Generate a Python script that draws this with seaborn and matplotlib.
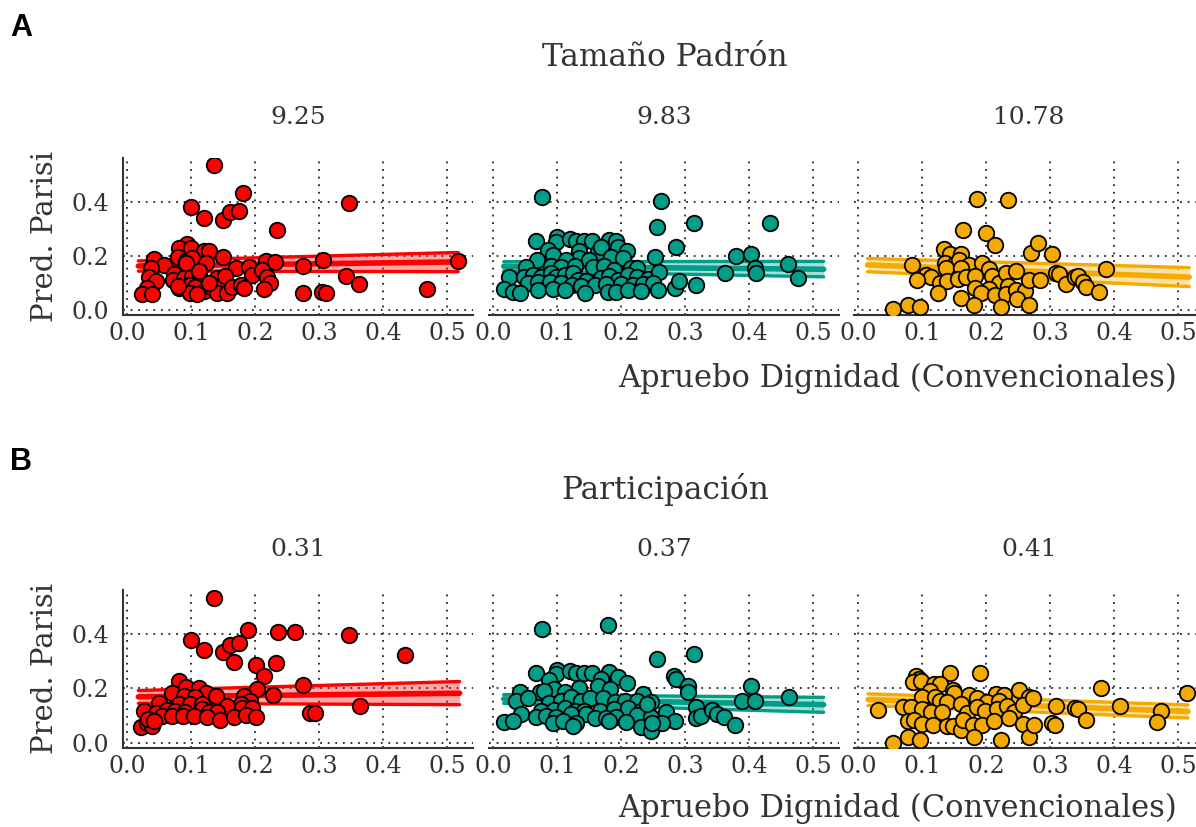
import matplotlib
matplotlib.use("Agg")
import matplotlib.pyplot as plt
import seaborn as sns
import pandas as pd
import numpy as np

# ---------------- data ----------------
row_titles = ["Tamaño Padrón", "Participación"]
facet_labels_a = ["9.25", "9.83", "10.78"]
facet_labels_b = ["0.31", "0.37", "0.41"]
panel_letters = ["A", "B"]
x_label = "Apruebo Dignidad (Convencionales)"
y_label = "Pred. Parisi"
x_ticks = [0.0, 0.1, 0.2, 0.3, 0.4, 0.5]
x_tick_labels = ["0.0", "0.1", "0.2", "0.3", "0.4", "0.5"]
y_ticks = [0.0, 0.2, 0.4]
y_tick_labels = ["0.0", "0.2", "0.4"]
colors = ["#FF0000", "#009E88", "#F4AA00"]

a1_x = [0.135, 0.180, 0.0995, 0.120, 0.150, 0.161, 0.175, 0.233, 0.093, 0.080, 0.0995, 0.120, 0.128, 0.150,
        0.041, 0.057, 0.036, 0.079, 0.092, 0.101, 0.122, 0.169, 0.190, 0.195, 0.217, 0.230, 0.211, 0.218,
        0.222, 0.214, 0.033, 0.045, 0.031, 0.022, 0.039, 0.072, 0.071, 0.080, 0.088, 0.101, 0.114, 0.111,
        0.098, 0.106, 0.119, 0.130, 0.140, 0.143, 0.140, 0.153, 0.155, 0.164, 0.177, 0.182, 0.127, 0.098,
        0.109, 0.091, 0.079, 0.274, 0.275, 0.305, 0.304, 0.310, 0.346, 0.342, 0.362, 0.468, 0.517]
a1_y = [0.535, 0.433, 0.379, 0.341, 0.332, 0.360, 0.367, 0.296, 0.244, 0.228, 0.228, 0.219, 0.219, 0.195,
        0.187, 0.166, 0.154, 0.195, 0.179, 0.191, 0.172, 0.154, 0.160, 0.129, 0.181, 0.175, 0.148, 0.123,
        0.101, 0.076, 0.123, 0.105, 0.080, 0.058, 0.059, 0.133, 0.111, 0.080, 0.117, 0.126, 0.117, 0.142,
        0.092, 0.086, 0.068, 0.086, 0.117, 0.086, 0.064, 0.126, 0.064, 0.086, 0.092, 0.080, 0.098, 0.062,
        0.059, 0.172, 0.087, 0.162, 0.064, 0.184, 0.066, 0.064, 0.395, 0.125, 0.094, 0.076, 0.181]

a2_x = [0.076, 0.067, 0.099, 0.097, 0.119, 0.129, 0.141, 0.154, 0.180, 0.192, 0.194, 0.163, 0.209, 0.168,
        0.085, 0.093, 0.133, 0.134, 0.150, 0.184, 0.202, 0.068, 0.114, 0.051, 0.090, 0.106, 0.127, 0.155,
        0.173, 0.189, 0.215, 0.225, 0.252, 0.025, 0.048, 0.061, 0.075, 0.090, 0.098, 0.111, 0.124, 0.132,
        0.145, 0.168, 0.181, 0.194, 0.210, 0.225, 0.241, 0.259, 0.054, 0.069, 0.088, 0.106, 0.122, 0.137,
        0.158, 0.176, 0.199, 0.218, 0.233, 0.249, 0.016, 0.030, 0.041, 0.069, 0.093, 0.111, 0.143, 0.179,
        0.192, 0.211, 0.231, 0.257, 0.262, 0.256, 0.314, 0.286, 0.283, 0.290, 0.317, 0.432, 0.379, 0.403,
        0.408, 0.410, 0.3625, 0.461, 0.476]
a2_y = [0.417, 0.255, 0.270, 0.251, 0.260, 0.255, 0.255, 0.255, 0.257, 0.255, 0.233, 0.214, 0.218, 0.233,
        0.221, 0.202, 0.218, 0.190, 0.184, 0.194, 0.190, 0.184, 0.184, 0.157, 0.162, 0.157, 0.162, 0.159,
        0.162, 0.147, 0.153, 0.153, 0.194, 0.120, 0.123, 0.129, 0.120, 0.135, 0.123, 0.129, 0.135, 0.110,
        0.108, 0.116, 0.125, 0.110, 0.129, 0.123, 0.113, 0.141, 0.098, 0.104, 0.104, 0.098, 0.092, 0.088,
        0.092, 0.096, 0.096, 0.092, 0.096, 0.098, 0.076, 0.067, 0.064, 0.074, 0.076, 0.074, 0.064, 0.067,
        0.067, 0.074, 0.071, 0.074, 0.402, 0.306, 0.322, 0.233, 0.082, 0.108, 0.092, 0.322, 0.200, 0.208,
        0.156, 0.135, 0.135, 0.168, 0.116]

a3_x = [0.186, 0.234, 0.164, 0.199, 0.213, 0.269, 0.134, 0.143, 0.161, 0.136, 0.150, 0.157, 0.173, 0.193,
        0.084, 0.137, 0.160, 0.204, 0.105, 0.114, 0.092, 0.127, 0.139, 0.155, 0.168, 0.182, 0.209, 0.220,
        0.231, 0.246, 0.233, 0.204, 0.182, 0.191, 0.213, 0.230, 0.246, 0.261, 0.247, 0.124, 0.161, 0.181,
        0.222, 0.267, 0.054, 0.078, 0.096, 0.281, 0.303, 0.267, 0.283, 0.308, 0.314, 0.324, 0.339, 0.343,
        0.351, 0.356, 0.376, 0.3875]
a3_y = [0.411, 0.407, 0.294, 0.284, 0.241, 0.211, 0.223, 0.206, 0.206, 0.174, 0.165, 0.184, 0.165, 0.174,
        0.165, 0.153, 0.153, 0.150, 0.129, 0.123, 0.110, 0.098, 0.108, 0.113, 0.123, 0.125, 0.125, 0.098,
        0.135, 0.145, 0.088, 0.076, 0.080, 0.061, 0.055, 0.058, 0.074, 0.071, 0.040, 0.061, 0.043, 0.018,
        0.012, 0.018, 0.002, 0.018, 0.009, 0.248, 0.208, 0.110, 0.110, 0.137, 0.131, 0.096, 0.120, 0.125,
        0.104, 0.083, 0.067, 0.151]

b1_x = [0.135, 0.188, 0.235, 0.2625, 0.0995, 0.120, 0.150, 0.161, 0.175, 0.166, 0.201, 0.232, 0.214, 0.203,
        0.227, 0.081, 0.092, 0.111, 0.122, 0.070, 0.088, 0.105, 0.138, 0.182, 0.192, 0.050, 0.080, 0.098,
        0.117, 0.177, 0.156, 0.026, 0.044, 0.062, 0.075, 0.090, 0.117, 0.127, 0.140, 0.179, 0.195, 0.054,
        0.070, 0.087, 0.104, 0.125, 0.144, 0.166, 0.186, 0.201, 0.021, 0.031, 0.039, 0.032, 0.041, 0.274,
        0.286, 0.293, 0.346, 0.433, 0.363]
b1_y = [0.533, 0.413, 0.407, 0.405, 0.379, 0.342, 0.333, 0.358, 0.368, 0.296, 0.284, 0.293, 0.244, 0.196,
        0.176, 0.226, 0.204, 0.200, 0.183, 0.183, 0.173, 0.170, 0.171, 0.173, 0.155, 0.146, 0.143, 0.143,
        0.143, 0.143, 0.137, 0.118, 0.109, 0.122, 0.118, 0.112, 0.124, 0.114, 0.112, 0.127, 0.127, 0.097,
        0.100, 0.100, 0.097, 0.093, 0.085, 0.093, 0.102, 0.093, 0.057, 0.073, 0.060, 0.087, 0.081, 0.214,
        0.108, 0.108, 0.397, 0.321, 0.137]

b2_x = [0.076, 0.179, 0.255, 0.067, 0.099, 0.097, 0.119, 0.129, 0.141, 0.154, 0.181, 0.194, 0.208, 0.168,
        0.087, 0.095, 0.134, 0.163, 0.182, 0.041, 0.072, 0.079, 0.111, 0.233, 0.035, 0.054, 0.087, 0.105,
        0.121, 0.137, 0.151, 0.171, 0.190, 0.205, 0.225, 0.246, 0.043, 0.074, 0.095, 0.111, 0.127, 0.142,
        0.166, 0.189, 0.210, 0.231, 0.067, 0.082, 0.098, 0.121, 0.145, 0.158, 0.176, 0.191, 0.225, 0.246,
        0.017, 0.030, 0.093, 0.108, 0.129, 0.124, 0.181, 0.207, 0.231, 0.246, 0.314, 0.282, 0.285, 0.304,
        0.304, 0.317, 0.317, 0.325, 0.341, 0.350, 0.361, 0.378, 0.403, 0.389, 0.408, 0.4625, 0.240, 0.269,
        0.283, 0.263, 0.248]
b2_y = [0.417, 0.432, 0.309, 0.257, 0.269, 0.251, 0.262, 0.257, 0.257, 0.257, 0.260, 0.241, 0.219, 0.235,
        0.231, 0.198, 0.202, 0.210, 0.196, 0.186, 0.188, 0.192, 0.186, 0.180, 0.153, 0.165, 0.145, 0.155,
        0.167, 0.155, 0.165, 0.165, 0.149, 0.155, 0.155, 0.149, 0.106, 0.118, 0.121, 0.128, 0.118, 0.118,
        0.118, 0.124, 0.128, 0.118, 0.093, 0.100, 0.096, 0.106, 0.106, 0.091, 0.091, 0.096, 0.103, 0.096,
        0.077, 0.081, 0.071, 0.081, 0.073, 0.060, 0.079, 0.075, 0.059, 0.044, 0.325, 0.247, 0.235, 0.210,
        0.186, 0.133, 0.091, 0.100, 0.121, 0.106, 0.095, 0.066, 0.207, 0.152, 0.155, 0.170, 0.142, 0.112,
        0.081, 0.072, 0.074]

b3_x = [0.143, 0.190, 0.090, 0.094, 0.085, 0.097, 0.118, 0.127, 0.112, 0.148, 0.149, 0.172, 0.215, 0.228,
        0.251, 0.266, 0.100, 0.120, 0.127, 0.139, 0.160, 0.186, 0.201, 0.220, 0.030, 0.069, 0.082, 0.099,
        0.114, 0.130, 0.170, 0.185, 0.198, 0.216, 0.232, 0.243, 0.257, 0.077, 0.086, 0.099, 0.116, 0.138,
        0.147, 0.161, 0.163, 0.179, 0.193, 0.212, 0.235, 0.257, 0.054, 0.078, 0.096, 0.181, 0.222, 0.267,
        0.272, 0.274, 0.303, 0.307, 0.309, 0.338, 0.343, 0.356, 0.379, 0.409, 0.473, 0.466, 0.513]
b3_y = [0.256, 0.257, 0.244, 0.235, 0.222, 0.226, 0.216, 0.216, 0.192, 0.194, 0.182, 0.177, 0.180, 0.177,
        0.194, 0.167, 0.170, 0.167, 0.153, 0.149, 0.143, 0.165, 0.149, 0.155, 0.121, 0.133, 0.130, 0.124,
        0.114, 0.114, 0.108, 0.133, 0.118, 0.124, 0.137, 0.112, 0.140, 0.079, 0.084, 0.069, 0.065, 0.063,
        0.063, 0.047, 0.084, 0.065, 0.065, 0.079, 0.091, 0.069, 0.001, 0.020, 0.010, 0.020, 0.011, 0.020,
        0.165, 0.065, 0.071, 0.065, 0.137, 0.127, 0.125, 0.084, 0.202, 0.134, 0.116, 0.078, 0.182]

# fitted prediction bands: [left end, right end]
a1_band_x = [0.017, 0.517]; a1_lo = [0.143, 0.141]; a1_fit = [0.162, 0.177]; a1_hi = [0.181, 0.212]
a2_band_x = [0.016, 0.516]; a2_lo = [0.144, 0.122]; a2_fit = [0.161, 0.150]; a2_hi = [0.178, 0.179]
a3_band_x = [0.014, 0.517]; a3_lo = [0.141, 0.086]; a3_fit = [0.166, 0.121]; a3_hi = [0.190, 0.156]
b1_band_x = [0.017, 0.519]; b1_lo = [0.145, 0.140]; b1_fit = [0.169, 0.182]; b1_hi = [0.192, 0.225]
b2_band_x = [0.016, 0.516]; b2_lo = [0.145, 0.112]; b2_fit = [0.161, 0.140]; b2_hi = [0.177, 0.167]
b3_band_x = [0.015, 0.515]; b3_lo = [0.137, 0.091]; b3_fit = [0.159, 0.115]; b3_hi = [0.180, 0.139]

# ---------------- figure ----------------
sns.set_theme(style="white")
SERIF = ["DejaVu Serif"]
plt.rcParams["font.family"] = SERIF
TXT = "#333333"

W, H = 1196, 827
fig = plt.figure(figsize=(W / 100, H / 100), dpi=100)

def fx(px):
    return px / W

def fy(py):
    return 1 - py / H

panel_left = [123, 489, 854]
panel_w = 350
rows = [
    dict(top=158, bottom=315, title_y=58, facet_y=118, letter_y=28, xlab_y=378,
         facets=facet_labels_a,
         pts=[(a1_x, a1_y), (a2_x, a2_y), (a3_x, a3_y)],
         bands=[(a1_band_x, a1_lo, a1_fit, a1_hi), (a2_band_x, a2_lo, a2_fit, a2_hi),
                (a3_band_x, a3_lo, a3_fit, a3_hi)]),
    dict(top=590, bottom=748, title_y=490, facet_y=550, letter_y=462, xlab_y=808,
         facets=facet_labels_b,
         pts=[(b1_x, b1_y), (b2_x, b2_y), (b3_x, b3_y)],
         bands=[(b1_band_x, b1_lo, b1_fit, b1_hi), (b2_band_x, b2_lo, b2_fit, b2_hi),
                (b3_band_x, b3_lo, b3_fit, b3_hi)]),
]

for r, row in enumerate(rows):
    h = row["bottom"] - row["top"]
    for c in range(3):
        ax = fig.add_axes([fx(panel_left[c]), fy(row["bottom"]), fx(panel_w), h / H])
        ax.set_xlim(-0.007, 0.54)
        ax.set_ylim(-0.019, 0.561)
        ax.set_xticks(x_ticks)
        ax.set_xticklabels(x_tick_labels)
        ax.set_yticks(y_ticks)
        ax.set_yticklabels(y_tick_labels)
        ax.grid(True, color="#222222", linestyle=(0, (1, 3.2)), linewidth=1.3)
        ax.set_axisbelow(True)
        for s in ["top", "right"]:
            ax.spines[s].set_visible(False)
        ax.spines["bottom"].set_color("#333333")
        ax.spines["bottom"].set_linewidth(1.5)
        if c == 0:
            ax.spines["left"].set_color("#333333")
            ax.spines["left"].set_linewidth(1.5)
        else:
            ax.spines["left"].set_visible(False)
            ax.tick_params(axis="y", labelleft=False)
        ax.tick_params(axis="x", length=0, labelsize=17, labelcolor=TXT, pad=5)
        ax.tick_params(axis="y", length=0, labelsize=17, labelcolor=TXT, pad=10)

        bx, lo, fit, hi = row["bands"][c]
        col = colors[c]
        ax.fill_between(bx, lo, hi, color=col, alpha=0.35, linewidth=0, zorder=2)
        band_df = pd.DataFrame({"x": bx * 3, "y": lo + fit + hi,
                                "k": ["lo"] * 2 + ["fit"] * 2 + ["hi"] * 2})
        for k, lw in [("lo", 2.4), ("hi", 2.4), ("fit", 4.0)]:
            d = band_df[band_df["k"] == k]
            sns.lineplot(data=d, x="x", y="y", ax=ax, color=col, linewidth=lw, zorder=3,
                         estimator=None, sort=False)

        px, py = row["pts"][c]
        df = pd.DataFrame({"x": px, "y": py})
        sns.scatterplot(data=df, x="x", y="y", ax=ax, color=col, edgecolor="black",
                        linewidth=1.3, s=125, zorder=4)
        ax.set_xlabel("")
        ax.set_ylabel("")

        cx = panel_left[c] + panel_w / 2
        fig.text(fx(cx), fy(row["facet_y"]), row["facets"][c], ha="center", va="center",
                 fontsize=18, color=TXT)

    fig.text(fx(665), fy(row["title_y"]), row_titles[r], ha="center", va="center",
             fontsize=22.5, color=TXT)
    fig.text(fx(10), fy(row["letter_y"]), panel_letters[r], ha="left", va="center",
             fontsize=22, fontweight="bold", color="black", family=["Liberation Sans", "DejaVu Sans"])
    fig.text(fx(1177), fy(row["xlab_y"]), x_label, ha="right", va="center",
             fontsize=22, color=TXT)
    fig.text(fx(45), fy((row["top"] + row["bottom"]) / 2), y_label, ha="center", va="center",
             rotation=90, fontsize=21, color=TXT)

fig.savefig("out.png", dpi=100)
